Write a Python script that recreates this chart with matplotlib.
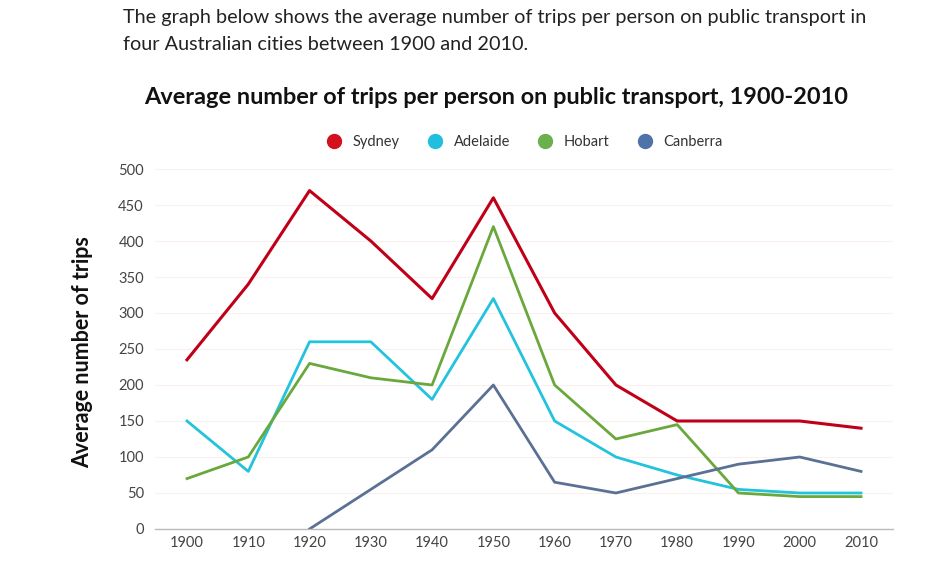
import matplotlib
matplotlib.use("Agg")
import matplotlib.pyplot as plt
from matplotlib.lines import Line2D

years = [1900, 1910, 1920, 1930, 1940, 1950, 1960, 1970, 1980, 1990, 2000, 2010]
sydney = [235, 340, 470, 400, 320, 460, 300, 200, 150, 150, 150, 140]
adelaide = [150, 80, 260, 260, 180, 320, 150, 100, 75, 55, 50, 50]
hobart = [70, 100, 230, 210, 200, 420, 200, 125, 145, 50, 45, 45]
canberra_years = [1920, 1930, 1940, 1950, 1960, 1970, 1980, 1990, 2000, 2010]
canberra = [0, 55, 110, 200, 65, 50, 70, 90, 100, 80]
yticks = [0, 50, 100, 150, 200, 250, 300, 350, 400, 450, 500]

plt.rcParams['font.family'] = ['Lato', 'DejaVu Sans']

fig = plt.figure(figsize=(9.4, 5.77), dpi=100)
ax = fig.add_axes([155/940, 48/577, (893-155)/940, (529-169)/577])

line_cols = {'Sydney': '#c00018', 'Adelaide': '#22c3dc', 'Hobart': '#6aa83c', 'Canberra': '#5a7094'}
mark_cols = {'Sydney': '#d4101c', 'Adelaide': '#1fbfdd', 'Hobart': '#6ab04c', 'Canberra': '#4e73a8'}

ax.plot(years, sydney, color=line_cols['Sydney'], lw=2.2)
ax.plot(years, adelaide, color=line_cols['Adelaide'], lw=2.0)
ax.plot(years, hobart, color=line_cols['Hobart'], lw=2.0)
ax.plot(canberra_years, canberra, color=line_cols['Canberra'], lw=2.0)

ax.set_xlim(1900 - 32/6.127, 2010 + 32/6.127)
ax.set_ylim(0, 500)
ax.set_xticks(years)
ax.set_yticks(yticks)
ax.tick_params(axis='both', length=0, labelsize=10.5, labelcolor='#444444')
ax.tick_params(axis='x', pad=5)
ax.tick_params(axis='y', pad=8)
ax.grid(axis='y', color='#faf0f0', lw=0.8)
ax.set_axisbelow(True)
for s in ['top', 'right', 'left']:
    ax.spines[s].set_visible(False)
ax.spines['bottom'].set_color('#bbbbbb')
ax.spines['bottom'].set_linewidth(1.0)

fig.text(83/940, 1 - 352/577, 'Average number of trips', rotation=90, ha='center', va='center',
         fontsize=15.5, fontweight='bold', color='#111111')

fig.text(123/940, 1 - 18/577, 'The graph below shows the average number of trips per person on public transport in',
         fontsize=14.3, color='#222222', va='center', ha='left')
fig.text(123/940, 1 - 44/577, 'four Australian cities between 1900 and 2010.',
         fontsize=14.3, color='#222222', va='center', ha='left')
fig.text(496/940, 1 - 98/577, 'Average number of trips per person on public transport, 1900-2010',
         fontsize=16.9, fontweight='bold', color='#111111', va='center', ha='center')

handles = [Line2D([], [], marker='o', linestyle='none', markersize=10, color=mark_cols[k]) for k in mark_cols]
fig.legend(handles, list(mark_cols.keys()), loc='center', bbox_to_anchor=(521/940, 1 - 142/577), ncol=4,
           frameon=False, fontsize=10.5, handletextpad=0.3, columnspacing=1.4, labelcolor='#333333')

fig.savefig('out.png', dpi=100, facecolor='white')
